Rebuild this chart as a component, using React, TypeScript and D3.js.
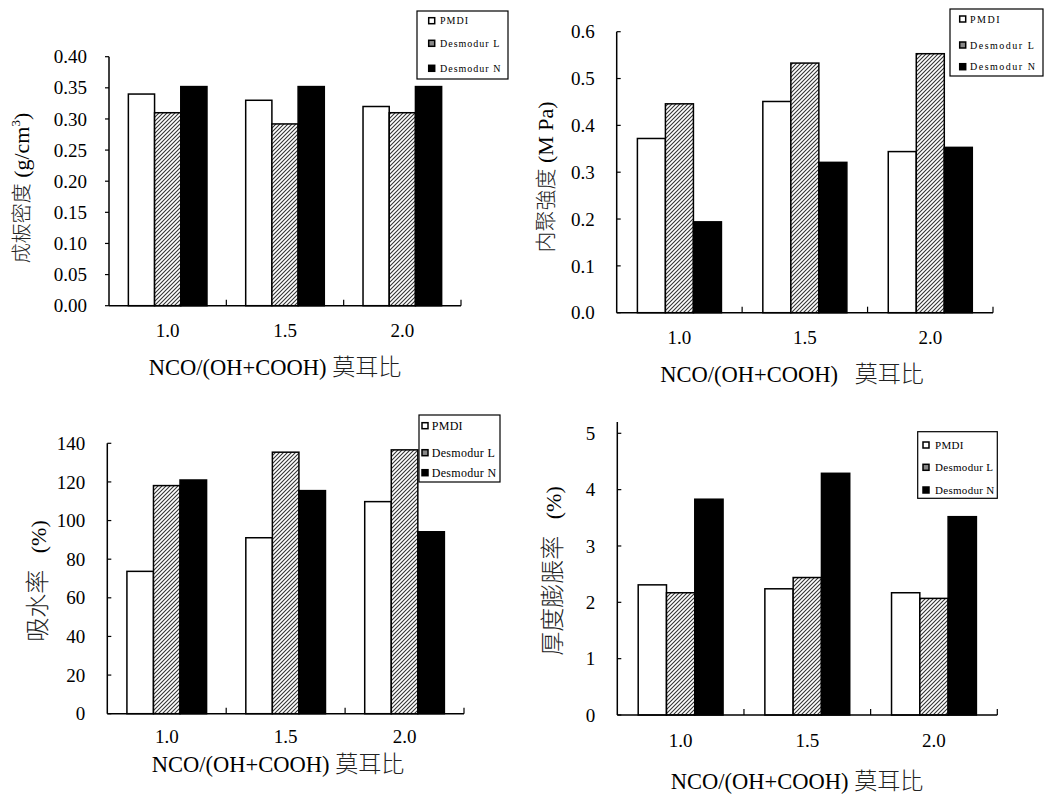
import * as d3 from 'd3'

const categories = ['1.0', '1.5', '2.0']
const seriesNames = ['PMDI', 'Desmodur L', 'Desmodur N']

// 成板密度 (g/cm3)
const densityPMDI = [0.34, 0.33, 0.32]
const densityL = [0.31, 0.292, 0.31]
const densityN = [0.352, 0.352, 0.352]
const densityTicks = [0, 0.05, 0.1, 0.15, 0.2, 0.25, 0.3, 0.35, 0.4]

// 内聚強度 (MPa)
const ibPMDI = [0.372, 0.451, 0.344]
const ibL = [0.446, 0.533, 0.553]
const ibN = [0.194, 0.321, 0.353]
const ibTicks = [0, 0.1, 0.2, 0.3, 0.4, 0.5, 0.6]

// 吸水率 (%)
const waPMDI = [73.7, 91.1, 109.8]
const waL = [118.1, 135.4, 136.6]
const waN = [121.0, 115.5, 94.2]
const waTicks = [0, 20, 40, 60, 80, 100, 120, 140]

// 厚度膨脹率 (%)
const tsPMDI = [2.31, 2.24, 2.17]
const tsL = [2.17, 2.44, 2.07]
const tsN = [3.83, 4.29, 3.52]
const tsTicks = [0, 1, 2, 3, 4, 5]

const FONT = 'Liberation Serif, serif'
const CJK = 'Noto Sans CJK TC, sans-serif'
const fills = ['#ffffff', 'url(#hatch)', '#000000']

const panels = [
  {
    key: 'density', values: [densityPMDI, densityL, densityN], ticks: densityTicks, fmt: '.2f',
    left: 109, right: 461, top: 56.7, bottom: 305.7, axisTop: 56.7, tickDir: -1, xLab: 25,
    yTitle: { x: 23, y: 188, cjk: '成板密度', latin: ' (g/cm', sup: '3', cjkSize: 20, latinSize: 22 },
    xTitle: { x: 275, y: 367, text: 'NCO/(OH+COOH) ' },
    legend: { x: 417, y: 11, w: 91, h: 68, rows: [20.7, 43.3, 68.3], mx: 431.7, tx: 440, fs: 10, ls: 1 },
  },
  {
    key: 'ib', values: [ibPMDI, ibL, ibN], ticks: ibTicks, fmt: '.1f',
    left: 616.7, right: 993, top: 31.7, bottom: 312.7, axisTop: 31.7, tickDir: 1, xLab: 25,
    yTitle: { x: 547, y: 177, cjk: '内聚強度', latin: ' (M Pa)', sup: '', cjkSize: 21, latinSize: 22 },
    xTitle: { x: 792, y: 374, text: 'NCO/(OH+COOH)   ' },
    legend: { x: 950, y: 9, w: 93, h: 67, rows: [19, 45, 66.7], mx: 962.7, tx: 970, fs: 10, ls: 1.5 },
  },
  {
    key: 'wa', values: [waPMDI, waL, waN], ticks: waTicks, fmt: 'd',
    left: 107.3, right: 464, top: 443.3, bottom: 713.7, axisTop: 443.3, tickDir: 1, xLab: 23,
    yTitle: { x: 40, y: 581, cjk: '吸水率', latin: '   (%)', sup: '', cjkSize: 24, latinSize: 22 },
    xTitle: { x: 278, y: 764, text: 'NCO/(OH+COOH) ' },
    legend: { x: 419, y: 415, w: 81, h: 67, rows: [425.7, 452.7, 472.7], mx: 425, tx: 431.7, fs: 12, ls: 0.3 },
  },
  {
    key: 'ts', values: [tsPMDI, tsL, tsN], ticks: tsTicks, fmt: 'd',
    left: 617.3, right: 997.3, top: 433.3, bottom: 715, axisTop: 422, tickDir: 1, xLab: 25,
    yTitle: { x: 555, y: 571, cjk: '厚度膨脹率', latin: '   (%)', sup: '', cjkSize: 24, latinSize: 22 },
    xTitle: { x: 797, y: 781, text: 'NCO/(OH+COOH) ' },
    legend: { x: 917.7, y: 431.7, w: 79.6, h: 66.6, rows: [445, 467.3, 490], mx: 926, tx: 935, fs: 11, ls: 0.3 },
  },
]

function Panel({ p }: { p: any }) {
  const x = d3.scaleBand().domain(categories).range([p.left, p.right]).paddingInner(0.33).paddingOuter(0.165)
  const xs = d3.scaleBand().domain(seriesNames).range([0, x.bandwidth()])
  const y = d3.scaleLinear().domain([0, p.ticks[p.ticks.length - 1]]).range([p.bottom, p.top])
  const fmt = d3.format(p.fmt)
  const bounds = categories.map((_, i) => p.left + x.step() * (i + 1))
  const lg = p.legend

  return (
    <g>
      {seriesNames.map((s, si) =>
        categories.map((c, ci) => (
          <rect key={s + c}
            x={(x(c) ?? 0) + (xs(s) ?? 0)} y={y(p.values[si][ci])}
            width={xs.bandwidth()} height={p.bottom - y(p.values[si][ci])}
            fill={fills[si]} stroke="#000" strokeWidth={1.5} />
        ))
      )}
      {/* axes */}
      <line x1={p.left} x2={p.left} y1={p.axisTop} y2={p.bottom} stroke="#000" strokeWidth={1.5} />
      <line x1={p.left} x2={p.right} y1={p.bottom} y2={p.bottom} stroke="#000" strokeWidth={1.5} />
      {p.ticks.map((t: number) => (
        <g key={t}>
          <line x1={p.left} x2={p.left + 4 * p.tickDir} y1={y(t)} y2={y(t)} stroke="#000" strokeWidth={1.2} />
          <text x={p.left - 22} y={y(t)} dy="0.35em" textAnchor="end" fontSize={19} fontFamily={FONT}>{fmt(t)}</text>
        </g>
      ))}
      {bounds.map((b, i) => (
        <line key={i} x1={b} x2={b} y1={p.bottom} y2={p.bottom - 6} stroke="#000" strokeWidth={1.2} />
      ))}
      {categories.map(c => (
        <text key={c} x={(x(c) ?? 0) + x.bandwidth() / 2} y={p.bottom + p.xLab} dy="0.35em"
          textAnchor="middle" fontSize={19} fontFamily={FONT}>{c}</text>
      ))}
      {/* titles */}
      <text x={p.xTitle.x} y={p.xTitle.y} dy="0.35em" textAnchor="middle" fontFamily={FONT} fontSize={22.5}
        style={{ whiteSpace: 'pre' }}>
        <tspan>{p.xTitle.text}</tspan>
        <tspan fontFamily={CJK} fontWeight={300} fill="#222" fontSize={23}>莫耳比</tspan>
      </text>
      <text transform={`translate(${p.yTitle.x},${p.yTitle.y}) rotate(-90)`} dy="0.35em" textAnchor="middle"
        fontFamily={FONT} style={{ whiteSpace: 'pre' }}>
        <tspan fontFamily={CJK} fontWeight={300} fill="#222" fontSize={p.yTitle.cjkSize}>{p.yTitle.cjk}</tspan>
        <tspan fontSize={p.yTitle.latinSize}>{p.yTitle.latin}</tspan>
        {p.yTitle.sup && <tspan fontSize={13} dy={-9}>{p.yTitle.sup}</tspan>}
        {p.yTitle.sup && <tspan fontSize={p.yTitle.latinSize} dy={9}>)</tspan>}
      </text>
      {/* legend */}
      <rect x={lg.x} y={lg.y} width={lg.w} height={lg.h} fill="#fff" stroke="#000" strokeWidth={1.2} />
      {seriesNames.map((s, si) => (
        <g key={s}>
          <rect x={lg.mx - 3} y={lg.rows[si] - 3} width={6} height={6}
            fill={si === 0 ? '#fff' : si === 1 ? '#888' : '#000'} stroke="#000" strokeWidth={1.5} />
          <text x={lg.tx} y={lg.rows[si]} dy="0.35em" fontSize={lg.fs} letterSpacing={lg.ls} fontFamily={FONT}>{s}</text>
        </g>
      ))}
    </g>
  )
}

export default function App() {
  return (
    <svg width={1044} height={796} style={{ position: 'absolute', left: 0, top: 0, background: '#fff' }}>
      <defs>
        <pattern id="hatch" patternUnits="userSpaceOnUse" width={4} height={4}>
          <rect width={4} height={4} fill="#fff" />
          <path d="M-1,1 l2,-2 M0,4 l4,-4 M3,5 l2,-2" stroke="#333" strokeWidth={1.1} />
        </pattern>
      </defs>
      <rect width={1044} height={796} fill="#fff" />
      {panels.map(p => <Panel key={p.key} p={p} />)}
    </svg>
  )
}
